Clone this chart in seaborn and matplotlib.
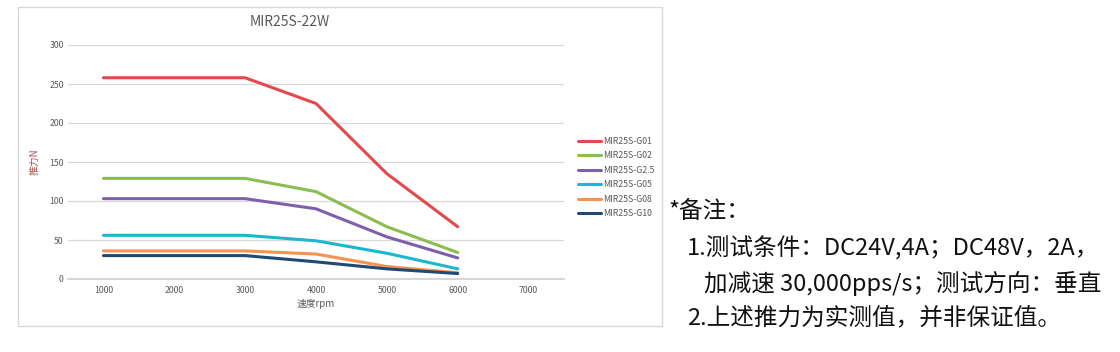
import matplotlib
matplotlib.use("Agg")
import matplotlib.pyplot as plt
import seaborn as sns
import pandas as pd
from matplotlib.patches import Rectangle

speeds = [1000, 2000, 3000, 4000, 5000, 6000]
series_names = ["MIR25S-G01", "MIR25S-G02", "MIR25S-G2.5", "MIR25S-G05", "MIR25S-G08", "MIR25S-G10"]
g01 = [258, 258, 258, 225, 135, 67]
g02 = [129, 129, 129, 112, 67, 34]
g25 = [103, 103, 103, 90, 54, 27]
g05 = [56, 56, 56, 49, 33, 13]
g08 = [36, 36, 36, 32, 16, 8]
g10 = [30, 30, 30, 22, 13, 7]
colors = ["#e5484d", "#8bbd50", "#7f5fab", "#1cb6cf", "#f7924f", "#1f4a72"]
x_ticks = [1000, 2000, 3000, 4000, 5000, 6000, 7000]
y_ticks = [0, 50, 100, 150, 200, 250, 300]
title = "MIR25S-22W"
xlabel = "速度rpm"
ylabel = "推力N"
notes = ["*备注：",
         "1.测试条件：DC24V,4A；DC48V，2A，",
         "加减速 30,000pps/s；测试方向：垂直",
         "2.上述推力为实测值，并非保证值。"]

rows = []
for name, vals in zip(series_names, [g01, g02, g25, g05, g08, g10]):
    for s, v in zip(speeds, vals):
        rows.append({"speed": s, "force": v, "series": name})
df = pd.DataFrame(rows)

sns.set_theme(style="white")
plt.rcParams['font.family'] = ['Noto Sans CJK SC', 'DejaVu Sans']

fig = plt.figure(figsize=(11.2, 3.52), dpi=100)
# chart frame
fig.patches.append(Rectangle((18/1120, 1-326/352), 644/1120, 319/352,
                             transform=fig.transFigure, fill=False,
                             edgecolor="#d9d9d9", linewidth=1.0))

ax = fig.add_axes([68/1120, 1-279/352, (564-68)/1120, (279-45)/352])
sns.lineplot(data=df, x="speed", y="force", hue="series", palette=colors,
             linewidth=2.2, ax=ax, legend=False, sort=False)
ax.set_xlim(500, 7500)
ax.set_ylim(0, 300)
ax.set_xticks(x_ticks)
ax.set_yticks(y_ticks)
ax.tick_params(axis="both", labelsize=6.3, colors="#595959", length=0)
ax.tick_params(axis="y", pad=3)
ax.tick_params(axis="x", pad=5)
ax.grid(axis="y", color="#d9d9d9", linewidth=0.9)
ax.set_axisbelow(True)
for sp in ["top", "right", "left"]:
    ax.spines[sp].set_visible(False)
ax.spines["bottom"].set_color("#d0d0d0")
ax.set_xlabel(xlabel, fontsize=7, color="#595959", labelpad=3)
ax.set_ylabel("")
fig.text(35/1120, 1-162/352, ylabel, fontsize=7, color="#a0524a",
         rotation=90, ha="center", va="center")
fig.text(290/1120, 1-22/352, title, fontsize=10, color="#595959",
         ha="center", va="center")

handles = [plt.Line2D([], [], color=c, linewidth=2.2) for c in colors]
fig.legend(handles, series_names, loc="upper left",
           bbox_to_anchor=(570/1120, 1-129/352), frameon=False,
           fontsize=6.3, handlelength=2.6, handletextpad=0.3,
           labelspacing=0.62, labelcolor="#595959")

note_font = ['Noto Sans CJK SC', 'DejaVu Sans']
fig.text(668/1120, 1-212/352, notes[0], fontsize=17, va="center", color="#111111", family=note_font)
fig.text(687/1120, 1-248/352, notes[1], fontsize=17, va="center", color="#111111", family=note_font)
fig.text(704/1120, 1-283/352, notes[2], fontsize=17, va="center", color="#111111", family=note_font)
fig.text(687/1120, 1-318/352, notes[3], fontsize=17, va="center", color="#111111", family=note_font)

fig.savefig("out.png", dpi=100)
